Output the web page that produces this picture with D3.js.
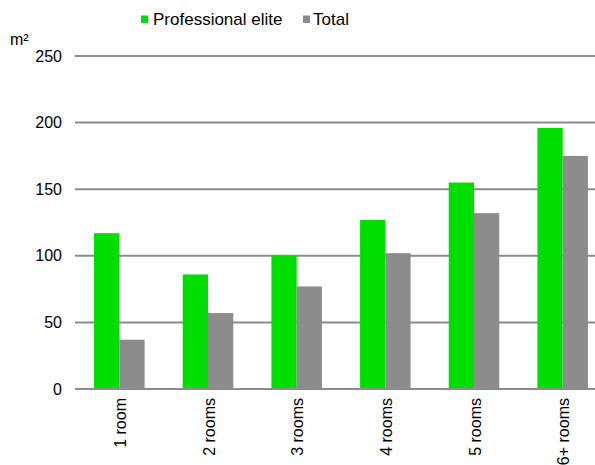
<!DOCTYPE html>
<html lang="en">
<head>
  <meta charset="UTF-8">
  <title>Floor area by rooms</title>
  <script src="https://cdnjs.cloudflare.com/ajax/libs/d3/7.8.5/d3.min.js"></script>
  <style>
    body { margin: 0; background: #fff; }
    svg { display: block; font-family: "Liberation Sans", Arial, sans-serif; }
  </style>
</head>
<body>
  <svg id="chart" width="595" height="465"></svg>
  <script>
    // data
    const rooms = ["1 room", "2 rooms", "3 rooms", "4 rooms", "5 rooms", "6+ rooms"];
    const seriesNames = ["Professional elite", "Total"];
    const elite = [117, 86, 100, 127, 155, 196];
    const total = [37, 57, 77, 102, 132, 175];
    const yTicks = [0, 50, 100, 150, 200, 250];
    const colors = ["#00dd00", "#8c8c8c"];

    const svg = d3.select("#chart");
    const plotLeft = 75, plotRight = 607, plotTop = 56, plotBottom = 389;

    const x = d3.scaleBand().domain(rooms).range([plotLeft, plotRight])
      .paddingInner(0.43).paddingOuter(0.215);
    const xs = d3.scaleBand().domain(seriesNames).range([0, x.bandwidth()]);
    const y = d3.scaleLinear().domain([0, 250]).range([plotBottom, plotTop]);

    // gridlines
    svg.append("g")
      .selectAll("line")
      .data(yTicks)
      .enter()
      .append("line")
      .attr("x1", plotLeft)
      .attr("x2", 595)
      .attr("y1", d => y(d))
      .attr("y2", d => y(d))
      .attr("stroke", "#8c8c8c")
      .attr("stroke-width", 2);

    // y labels
    svg.append("g")
      .selectAll("text")
      .data(yTicks)
      .enter()
      .append("text")
      .attr("x", 62)
      .attr("y", d => y(d))
      .attr("dy", "0.35em")
      .attr("text-anchor", "end")
      .attr("font-size", 16)
      .text(d => d);

    svg.append("text")
      .attr("x", 10)
      .attr("y", 45)
      .attr("font-size", 16)
      .text("m²");

    // bars
    const rows = rooms.map((r, i) => ({ room: r, vals: [elite[i], total[i]] }));
    const groups = svg.append("g")
      .selectAll("g")
      .data(rows)
      .enter()
      .append("g")
      .attr("transform", d => `translate(${x(d.room)},0)`);

    groups.selectAll("rect")
      .data(d => d.vals.map((v, j) => ({ name: seriesNames[j], v: v, j: j })))
      .enter()
      .append("rect")
      .attr("x", d => xs(d.name))
      .attr("width", xs.bandwidth())
      .attr("y", d => y(d.v))
      .attr("height", d => y(0) - y(d.v))
      .attr("fill", d => colors[d.j]);

    // redraw zero line on top
    svg.append("line")
      .attr("x1", plotLeft).attr("x2", 595)
      .attr("y1", y(0)).attr("y2", y(0))
      .attr("stroke", "#8c8c8c")
      .attr("stroke-width", 2);

    // x labels (rotated)
    svg.append("g")
      .selectAll("text")
      .data(rooms)
      .enter()
      .append("text")
      .attr("transform", d => `translate(${x(d) + x.bandwidth() / 2 + 1},398) rotate(-90)`)
      .attr("dy", "0.35em")
      .attr("text-anchor", "end")
      .attr("font-size", 16)
      .text(d => d);

    // legend
    const legendX = [141, 303];
    const legend = svg.append("g")
      .selectAll("g")
      .data(seriesNames)
      .enter()
      .append("g")
      .attr("transform", (d, i) => `translate(${legendX[i]},0)`);
    legend.append("rect")
      .attr("x", 0).attr("y", 15.5)
      .attr("width", 7).attr("height", 7.5)
      .attr("fill", (d, i) => colors[i]);
    legend.append("text")
      .attr("x", (d, i) => i === 0 ? 12 : 10)
      .attr("y", 25)
      .attr("font-size", 17)
      .text(d => d);
  </script>
</body>
</html>
